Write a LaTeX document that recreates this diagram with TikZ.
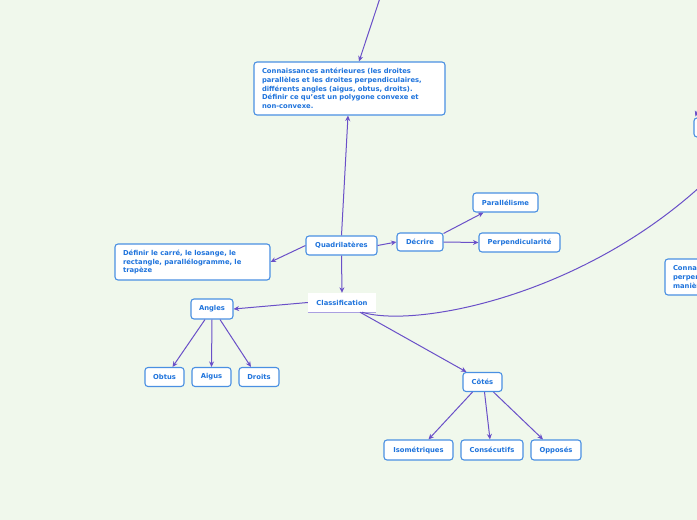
\documentclass[tikz,border=0pt]{standalone}
\usepackage{fontspec}
\setmainfont{DejaVu Sans}
\usetikzlibrary{arrows.meta,calc}
\definecolor{bg}{RGB}{240,248,236}
\definecolor{bord}{RGB}{74,144,226}
\definecolor{txt}{RGB}{30,115,220}
\definecolor{arr}{RGB}{106,80,200}
\definecolor{lav}{RGB}{170,160,225}
\begin{document}
\begin{tikzpicture}[x=1pt,y=-1pt,
  box/.style={draw=bord, line width=1.1pt, fill=white, rounded corners=3pt,
    font=\fontsize{6.8}{8.8}\selectfont\bfseries, text=txt, inner sep=0pt,
    minimum height=19pt},
  longbox/.style={box, align=left, inner xsep=8pt},
  classbox/.style={fill=white, font=\fontsize{6.8}{8.8}\selectfont\bfseries, text=txt,
    inner sep=0pt, minimum height=19pt},
  conn/.style={draw=arr, line width=1pt, -{Stealth[length=5.5pt,width=5pt]}},
  plain/.style={draw=arr, line width=1pt}
]
\clip (0,0) rectangle (697,520);
\fill[bg] (0,0) rectangle (697,520);

% nodes
\node[longbox, minimum width=191pt, minimum height=53pt, text width=175pt] (con) at (349.5,88.5)
  {Connaissances antérieures (les droites\\parallèles et les droites perpendiculaires,\\différents angles (aigus, obtus, droits).\\Définir ce qu'est un polygone convexe et\\non-convexe.};
\node[box, minimum width=71pt] (qua) at (341.5,245.5) {Quadrilatères};
\node[longbox, minimum width=155pt, minimum height=36pt, text width=139pt] (def) at (192.5,262)
  {Définir le carré, le losange, le\\rectangle, parallélogramme, le\\trapèze};
\node[box, minimum width=46pt, minimum height=18pt] (dec) at (420,242) {Décrire};
\node[box, minimum width=65pt] (par) at (505.5,202.5) {Parallélisme};
\node[box, minimum width=81pt] (per) at (519.5,242.5) {Perpendicularité};
\node[classbox, minimum width=68pt] (cla) at (342,302.5) {Classification};
\draw[lav, line width=1.2pt] (cla.south west) -- (cla.south east);
\node[box, minimum width=42pt, minimum height=20pt] (ang) at (212,309) {Angles};
\node[box, minimum width=39pt] (obt) at (164.5,377) {Obtus};
\node[box, minimum width=39pt] (aig) at (211.5,377) {Aigus};
\node[box, minimum width=40pt] (dro) at (259,377) {Droits};
\node[box, minimum width=39pt] (cot) at (482.5,382) {Côtés};
\node[box, minimum width=69pt, minimum height=20pt] (iso) at (418.5,450) {Isométriques};
\node[box, minimum width=62pt, minimum height=20pt] (cons) at (492,450) {Consécutifs};
\node[box, minimum width=50pt, minimum height=20pt] (opp) at (556,450) {Opposés};
\node[box, minimum width=60pt, minimum height=19pt] (rt) at (724,127.5) {};
\node[longbox, minimum width=160pt, minimum height=36pt, text width=144pt] (rb) at (745,277)
  {Connaissances\\perpendiculaires\\manière};

% free ends
\coordinate (topin) at (381,-5);
\coordinate (rtin) at (704,92);
\coordinate (farright) at (745,140);

% connectors
\draw[conn] (topin) -- ($(con.north)+(9.5,0)$);
\draw[conn] (rtin) -- ($(rt.north west)+(2,-1)$);
\draw[conn] (qua.north) -- ($(con.south)+(-1.5,0)$);
\draw[conn] (qua.west) -- (def.east);
\draw[conn] (qua.east) -- (dec.west);
\draw[conn] (qua.south) -- (cla.north);
\draw[conn] ($(dec.north east)+(0,1)$) -- ($(par.south)+(-22,0)$);
\draw[conn] (dec.east) -- (per.west);
\draw[conn] (cla.west) -- (ang.east);
\draw[conn] ($(ang.south)+(-7,0)$) -- ($(obt.north)+(8,0)$);
\draw[conn] (ang.south) -- (aig.north);
\draw[conn] ($(ang.south)+(8,0)$) -- ($(dro.north)+(-8,0)$);
\draw[conn] ($(cla.south)+(18,0)$) -- ($(cot.north west)+(4,0)$);
\draw[conn] ($(cot.south)+(-10,0)$) -- ($(iso.north)+(10,0)$);
\draw[conn] ($(cot.south)+(2,0)$) -- ($(cons.north)+(-2,0)$);
\draw[conn] ($(cot.south)+(11,0)$) -- ($(opp.north)+(-13,0)$);
\draw[plain] ($(cla.south)+(20,0)$) .. controls (420,330) and (620,290) .. (farright);
\end{tikzpicture}
\end{document}
